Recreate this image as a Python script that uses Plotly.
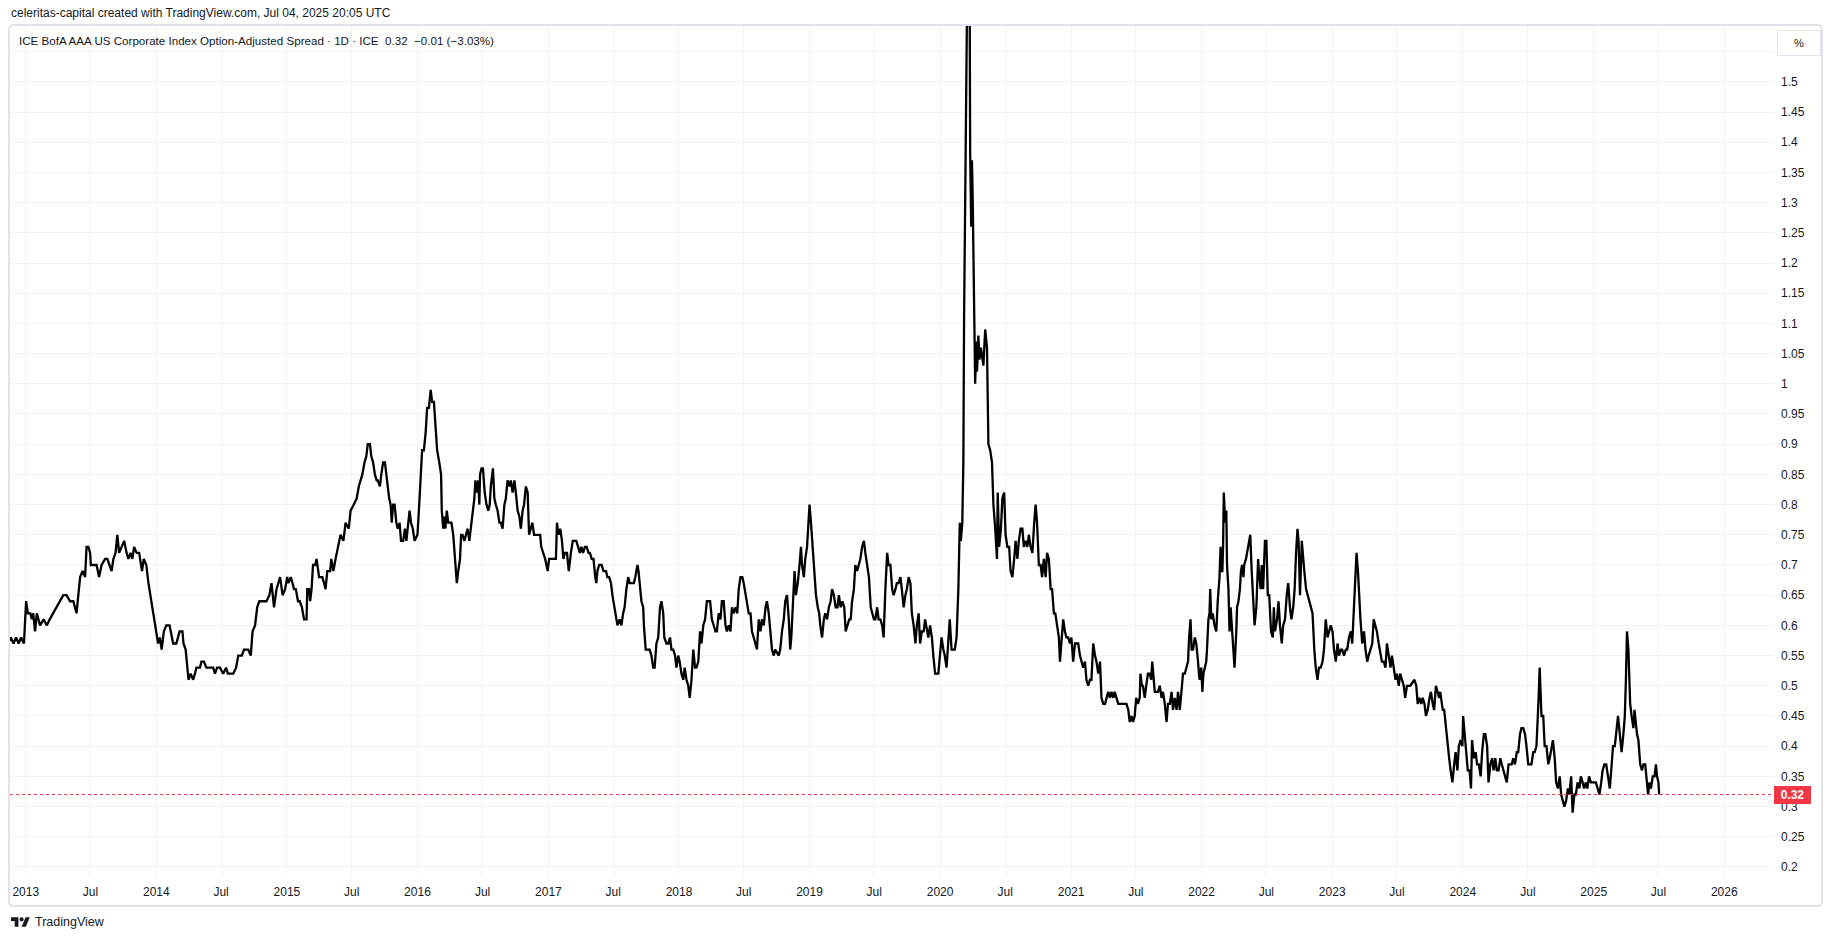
import plotly.graph_objects as go

# ---------------- data: ICE BofA AAA US Corporate OAS (%) ----------------
obs_2012 = [("2012-11-01",0.58),("2012-11-12",0.57),("2012-11-20",0.58),("2012-11-28",0.57),("2012-12-05",0.58),
            ("2012-12-12",0.57),("2012-12-19",0.58),("2012-12-27",0.57)]
obs_2013 = [("2013-01-02",0.64),("2013-01-07",0.62),("2013-01-14",0.62),("2013-01-18",0.61),("2013-01-22",0.62),("2013-01-27",0.59),
            ("2013-02-01",0.62),("2013-02-10",0.60),("2013-02-20",0.61),("2013-03-01",0.60),("2013-03-09",0.61),("2013-03-19",0.62),
            ("2013-03-28",0.63),("2013-04-07",0.64),("2013-04-16",0.65),("2013-04-25",0.65),("2013-05-05",0.64),("2013-05-14",0.64),
            ("2013-05-23",0.62),("2013-05-28",0.65),("2013-06-02",0.68),("2013-06-09",0.69),("2013-06-16",0.68),("2013-06-20",0.73),
            ("2013-06-25",0.73),("2013-06-30",0.72),("2013-07-02",0.70),("2013-07-09",0.70),("2013-07-18",0.70),("2013-07-25",0.68),
            ("2013-08-01",0.70),("2013-08-11",0.71),("2013-08-17",0.71),("2013-08-23",0.70),("2013-08-29",0.69),("2013-09-03",0.71),
            ("2013-09-09",0.72),("2013-09-14",0.75),("2013-09-19",0.72),("2013-09-26",0.73),("2013-10-03",0.74),("2013-10-10",0.72),
            ("2013-10-15",0.71),("2013-10-21",0.72),("2013-10-26",0.71),("2013-10-31",0.73),("2013-11-07",0.72),("2013-11-14",0.72),
            ("2013-11-22",0.69),("2013-11-27",0.71),("2013-12-04",0.70),("2013-12-10",0.67),("2013-12-15",0.65),("2013-12-21",0.63),
            ("2013-12-26",0.61),("2013-12-31",0.59)]
obs_2014 = [("2014-01-06",0.57),("2014-01-11",0.58),("2014-01-16",0.56),("2014-01-22",0.59),("2014-01-29",0.60),("2014-02-07",0.60),
            ("2014-02-17",0.57),("2014-02-26",0.57),("2014-03-07",0.59),("2014-03-15",0.59),("2014-03-18",0.57),("2014-03-24",0.56),
            ("2014-03-28",0.53),("2014-04-01",0.51),("2014-04-07",0.52),("2014-04-14",0.51),("2014-04-19",0.52),("2014-04-23",0.53),
            ("2014-05-03",0.53),("2014-05-07",0.54),("2014-05-14",0.54),("2014-05-21",0.53),("2014-06-01",0.53),("2014-06-09",0.53),
            ("2014-06-14",0.52),("2014-06-20",0.53),("2014-06-28",0.53),("2014-07-07",0.52),("2014-07-15",0.53),("2014-07-20",0.52),
            ("2014-07-26",0.52),("2014-08-04",0.52),("2014-08-12",0.53),("2014-08-18",0.55),("2014-08-28",0.55),("2014-09-03",0.56),
            ("2014-09-15",0.56),("2014-09-22",0.55),("2014-09-27",0.59),("2014-10-04",0.60),("2014-10-10",0.63),("2014-10-16",0.64),
            ("2014-10-27",0.64),("2014-11-05",0.64),("2014-11-13",0.65),("2014-11-19",0.67),("2014-11-26",0.63),("2014-12-03",0.66),
            ("2014-12-13",0.68),("2014-12-20",0.65),("2014-12-27",0.66)]
obs_2015 = [("2015-01-02",0.68),("2015-01-05",0.67),("2015-01-12",0.68),("2015-01-21",0.66),("2015-01-26",0.66),("2015-02-01",0.64),
            ("2015-02-06",0.64),("2015-02-12",0.63),("2015-02-18",0.61),("2015-02-25",0.61),("2015-02-27",0.66),("2015-03-04",0.66),
            ("2015-03-07",0.64),("2015-03-11",0.66),("2015-03-15",0.70),("2015-03-21",0.70),("2015-03-25",0.71),("2015-04-01",0.68),
            ("2015-04-10",0.68),("2015-04-15",0.67),("2015-04-19",0.66),("2015-04-24",0.69),("2015-05-02",0.69),("2015-05-05",0.71),
            ("2015-05-11",0.69),("2015-05-17",0.71),("2015-05-27",0.74),("2015-05-31",0.75),("2015-06-08",0.74),("2015-06-14",0.77),
            ("2015-06-23",0.76),("2015-06-28",0.79),("2015-07-07",0.80),("2015-07-15",0.81),("2015-07-21",0.83),("2015-07-26",0.84),
            ("2015-07-31",0.85),("2015-08-06",0.87),("2015-08-11",0.88),("2015-08-15",0.90),("2015-08-21",0.90),("2015-08-25",0.88),
            ("2015-08-30",0.87),("2015-09-04",0.85),("2015-09-09",0.84),("2015-09-12",0.84),("2015-09-18",0.83),("2015-09-22",0.85),
            ("2015-09-27",0.87),("2015-10-02",0.87),("2015-10-07",0.84),("2015-10-10",0.83),("2015-10-14",0.81),("2015-10-18",0.80),
            ("2015-10-21",0.77),("2015-10-25",0.80),("2015-10-29",0.80),("2015-11-03",0.77),("2015-11-07",0.76),("2015-11-12",0.77),
            ("2015-11-16",0.74),("2015-11-22",0.74),("2015-11-27",0.76),("2015-12-01",0.74),("2015-12-05",0.76),("2015-12-10",0.79),
            ("2015-12-14",0.77),("2015-12-19",0.76),("2015-12-24",0.74)]
obs_2016 = [("2016-01-01",0.75),("2016-01-05",0.79),("2016-01-10",0.84),("2016-01-14",0.89),("2016-01-19",0.89),("2016-01-24",0.92),
            ("2016-01-28",0.96),("2016-02-02",0.96),("2016-02-07",0.99),("2016-02-11",0.97),("2016-02-16",0.97),("2016-02-21",0.93),
            ("2016-02-25",0.89),("2016-03-02",0.87),("2016-03-07",0.85),("2016-03-09",0.79),("2016-03-13",0.76),("2016-03-16",0.78),
            ("2016-03-19",0.76),("2016-03-23",0.79),("2016-03-27",0.77),("2016-04-01",0.77),("2016-04-05",0.77),("2016-04-10",0.75),
            ("2016-04-14",0.72),("2016-04-17",0.69),("2016-04-20",0.67),("2016-04-24",0.69),("2016-04-29",0.71),("2016-05-02",0.75),
            ("2016-05-06",0.75),("2016-05-11",0.74),("2016-05-16",0.75),("2016-05-20",0.76),("2016-05-25",0.74),("2016-05-29",0.76),
            ("2016-06-02",0.77),("2016-06-08",0.81),("2016-06-11",0.84),("2016-06-15",0.82),("2016-06-19",0.84),("2016-06-22",0.80),
            ("2016-06-24",0.85),("2016-06-28",0.86),("2016-07-02",0.86),("2016-07-07",0.82),("2016-07-12",0.80),("2016-07-17",0.79),
            ("2016-07-21",0.80),("2016-07-24",0.83),("2016-07-30",0.86),("2016-08-03",0.81),("2016-08-07",0.80),("2016-08-12",0.79),
            ("2016-08-17",0.77),("2016-08-21",0.77),("2016-08-26",0.76),("2016-08-31",0.80),("2016-09-04",0.81),("2016-09-09",0.84),
            ("2016-09-15",0.83),("2016-09-18",0.84),("2016-09-23",0.82),("2016-09-28",0.84),("2016-10-02",0.82),("2016-10-07",0.79),
            ("2016-10-12",0.78),("2016-10-16",0.76),("2016-10-21",0.79),("2016-10-25",0.80),("2016-10-30",0.83),("2016-11-04",0.82),
            ("2016-11-08",0.75),("2016-11-13",0.76),("2016-11-17",0.77),("2016-11-22",0.75),("2016-12-01",0.75),("2016-12-09",0.75),
            ("2016-12-12",0.73),("2016-12-18",0.72),("2016-12-23",0.71),("2016-12-30",0.69)]
obs_2017 = [("2017-01-03",0.71),("2017-01-10",0.71),("2017-01-15",0.71),("2017-01-22",0.71),("2017-01-25",0.77),("2017-01-29",0.75),
            ("2017-02-03",0.76),("2017-02-08",0.74),("2017-02-12",0.71),("2017-02-16",0.72),("2017-02-22",0.72),("2017-02-27",0.69),
            ("2017-03-05",0.72),("2017-03-10",0.74),("2017-03-15",0.74),("2017-03-20",0.74),("2017-03-25",0.73),("2017-03-30",0.72),
            ("2017-04-03",0.73),("2017-04-08",0.72),("2017-04-13",0.73),("2017-04-18",0.73),("2017-04-23",0.72),("2017-04-27",0.72),
            ("2017-05-02",0.71),("2017-05-07",0.71),("2017-05-12",0.68),("2017-05-15",0.67),("2017-05-18",0.69),("2017-05-23",0.70),
            ("2017-05-30",0.70),("2017-06-04",0.69),("2017-06-11",0.69),("2017-06-15",0.68),("2017-06-20",0.68),("2017-06-25",0.67),
            ("2017-06-29",0.65),("2017-07-02",0.64),("2017-07-07",0.62),("2017-07-13",0.60),("2017-07-19",0.61),("2017-07-24",0.60),
            ("2017-07-29",0.62),("2017-08-02",0.63),("2017-08-07",0.66),("2017-08-12",0.68),("2017-08-16",0.67),("2017-08-21",0.67),
            ("2017-08-28",0.67),("2017-09-01",0.68),("2017-09-07",0.70),("2017-09-10",0.69),("2017-09-14",0.67),("2017-09-18",0.64),
            ("2017-09-23",0.63),("2017-09-25",0.60),("2017-09-30",0.56),("2017-10-05",0.56),("2017-10-11",0.56),("2017-10-16",0.55),
            ("2017-10-21",0.53),("2017-10-25",0.53),("2017-10-30",0.57),("2017-11-04",0.58),("2017-11-09",0.63),("2017-11-13",0.64),
            ("2017-11-18",0.62),("2017-11-21",0.58),("2017-11-27",0.57),("2017-12-02",0.57),("2017-12-07",0.58),("2017-12-11",0.56),
            ("2017-12-16",0.56),("2017-12-21",0.55),("2017-12-25",0.53),("2017-12-30",0.55)]
obs_2018 = [("2018-01-03",0.54),("2018-01-08",0.52),("2018-01-13",0.51),("2018-01-17",0.53),("2018-01-22",0.51),("2018-01-27",0.50),
            ("2018-01-31",0.48),("2018-02-05",0.51),("2018-02-10",0.56),("2018-02-15",0.53),("2018-02-19",0.53),("2018-02-24",0.54),
            ("2018-03-01",0.59),("2018-03-05",0.57),("2018-03-10",0.60),("2018-03-15",0.61),("2018-03-20",0.64),("2018-03-25",0.64),
            ("2018-03-29",0.64),("2018-04-03",0.61),("2018-04-08",0.60),("2018-04-13",0.59),("2018-04-17",0.59),("2018-04-22",0.62),
            ("2018-04-27",0.61),("2018-05-01",0.64),("2018-05-06",0.64),("2018-05-11",0.60),("2018-05-15",0.59),("2018-05-20",0.60),
            ("2018-05-25",0.59),("2018-05-29",0.63),("2018-06-03",0.62),("2018-06-08",0.63),("2018-06-13",0.62),("2018-06-17",0.66),
            ("2018-06-22",0.68),("2018-06-27",0.68),("2018-07-01",0.67),("2018-07-06",0.65),("2018-07-10",0.64),("2018-07-15",0.62),
            ("2018-07-20",0.62),("2018-07-24",0.59),("2018-07-29",0.58),("2018-08-03",0.57),("2018-08-07",0.56),("2018-08-12",0.61),
            ("2018-08-17",0.59),("2018-08-21",0.61),("2018-08-26",0.60),("2018-08-31",0.63),("2018-09-04",0.64),("2018-09-09",0.62),
            ("2018-09-14",0.58),("2018-09-18",0.56),("2018-09-23",0.55),("2018-09-27",0.56),("2018-10-07",0.55),("2018-10-11",0.56),
            ("2018-10-16",0.59),("2018-10-21",0.61),("2018-10-25",0.64),("2018-10-30",0.65),("2018-11-04",0.61),("2018-11-08",0.56),
            ("2018-11-11",0.58),("2018-11-15",0.64),("2018-11-20",0.69),("2018-11-24",0.65),("2018-11-29",0.67),("2018-12-04",0.70),
            ("2018-12-08",0.73),("2018-12-11",0.70),("2018-12-16",0.68),("2018-12-20",0.71),("2018-12-25",0.73),("2018-12-28",0.76)]
obs_2019 = [("2019-01-01",0.80),("2019-01-05",0.77),("2019-01-08",0.74),("2019-01-10",0.73),("2019-01-15",0.69),("2019-01-19",0.65),
            ("2019-01-24",0.63),("2019-01-28",0.62),("2019-01-31",0.60),("2019-02-05",0.58),("2019-02-10",0.61),("2019-02-14",0.62),
            ("2019-02-19",0.61),("2019-02-24",0.63),("2019-03-01",0.64),("2019-03-05",0.66),("2019-03-10",0.65),("2019-03-15",0.63),
            ("2019-03-20",0.63),("2019-03-24",0.65),("2019-03-29",0.63),("2019-04-03",0.64),("2019-04-08",0.63),("2019-04-12",0.59),
            ("2019-04-17",0.60),("2019-04-22",0.61),("2019-04-26",0.61),("2019-04-30",0.64),("2019-05-05",0.66),("2019-05-09",0.70),
            ("2019-05-14",0.69),("2019-05-19",0.70),("2019-05-23",0.71),("2019-05-28",0.73),("2019-06-02",0.74),("2019-06-06",0.72),
            ("2019-06-11",0.70),("2019-06-16",0.68),("2019-06-21",0.63),("2019-06-25",0.62),("2019-06-30",0.61),("2019-07-04",0.61),
            ("2019-07-09",0.63),("2019-07-13",0.61),("2019-07-18",0.61),("2019-07-23",0.60),("2019-07-27",0.58),("2019-08-01",0.66),
            ("2019-08-06",0.72),("2019-08-10",0.70),("2019-08-15",0.70),("2019-08-20",0.66),("2019-08-24",0.65),("2019-08-29",0.66),
            ("2019-09-02",0.67),("2019-09-07",0.67),("2019-09-12",0.68),("2019-09-16",0.66),("2019-09-21",0.63),("2019-09-26",0.65),
            ("2019-09-30",0.66),("2019-10-05",0.68),("2019-10-10",0.67),("2019-10-14",0.62),("2019-10-19",0.60),("2019-10-24",0.57),
            ("2019-10-28",0.60),("2019-11-02",0.62),("2019-11-06",0.57),("2019-11-11",0.59),("2019-11-16",0.59),("2019-11-20",0.61),
            ("2019-11-25",0.59),("2019-11-29",0.58),("2019-12-04",0.60),("2019-12-09",0.58),("2019-12-13",0.55),("2019-12-18",0.52),
            ("2019-12-27",0.52)]
obs_2020 = [("2020-01-01",0.55),("2020-01-05",0.58),("2020-01-10",0.56),("2020-01-14",0.55),("2020-01-19",0.53),("2020-01-24",0.57),
            ("2020-01-28",0.61),("2020-02-02",0.56),("2020-02-11",0.56),("2020-02-16",0.58),("2020-02-21",0.66),("2020-02-25",0.77),
            ("2020-02-28",0.74),("2020-03-03",0.77),("2020-03-06",0.87),("2020-03-08",1.11),("2020-03-11",1.26),("2020-03-13",1.30),
            ("2020-03-16",1.46),("2020-03-18",1.72),("2020-03-20",1.86),("2020-03-23",1.74),("2020-03-25",1.38),("2020-03-28",1.26),
            ("2020-03-30",1.37),("2020-04-01",1.31),("2020-04-04",1.20),("2020-04-08",1.00),("2020-04-11",1.07),("2020-04-13",1.02),
            ("2020-04-17",1.08),("2020-04-20",1.04),("2020-04-24",1.06),("2020-04-27",1.05),("2020-05-01",1.03),("2020-05-06",1.09),
            ("2020-05-11",1.06),("2020-05-15",0.90),("2020-05-20",0.89),("2020-05-25",0.87),("2020-05-29",0.80),("2020-06-03",0.76),
            ("2020-06-08",0.71),("2020-06-10",0.82),("2020-06-14",0.73),("2020-06-19",0.76),("2020-06-23",0.81),("2020-06-28",0.82),
            ("2020-07-02",0.75),("2020-07-07",0.73),("2020-07-12",0.73),("2020-07-16",0.69),("2020-07-21",0.68),("2020-07-26",0.71),
            ("2020-07-30",0.74),("2020-08-04",0.71),("2020-08-08",0.74),("2020-08-13",0.76),("2020-08-18",0.76),("2020-08-22",0.73),
            ("2020-08-27",0.74),("2020-09-01",0.73),("2020-09-05",0.75),("2020-09-10",0.73),("2020-09-15",0.72),("2020-09-20",0.77),
            ("2020-09-24",0.80),("2020-09-28",0.77),("2020-10-03",0.70),("2020-10-08",0.70),("2020-10-12",0.68),("2020-10-17",0.71),
            ("2020-10-22",0.68),("2020-10-26",0.72),("2020-10-31",0.71),("2020-11-05",0.66),("2020-11-09",0.66),("2020-11-14",0.62),
            ("2020-11-18",0.62),("2020-11-23",0.60),("2020-11-28",0.58),("2020-12-01",0.54),("2020-12-05",0.58),("2020-12-10",0.61),
            ("2020-12-15",0.59),("2020-12-19",0.58),("2020-12-24",0.58),("2020-12-29",0.57)]
obs_2021 = [("2021-01-02",0.58),("2021-01-07",0.54),("2021-01-12",0.57),("2021-01-16",0.57),("2021-01-21",0.57),("2021-01-26",0.55),
            ("2021-01-30",0.54),("2021-02-04",0.53),("2021-02-09",0.54),("2021-02-13",0.51),("2021-02-18",0.50),("2021-02-23",0.51),
            ("2021-02-27",0.51),("2021-03-04",0.57),("2021-03-09",0.55),("2021-03-13",0.54),("2021-03-18",0.52),("2021-03-23",0.54),
            ("2021-03-27",0.48),("2021-04-01",0.47),("2021-04-06",0.47),("2021-04-10",0.48),("2021-04-15",0.49),("2021-04-20",0.48),
            ("2021-04-24",0.49),("2021-04-29",0.48),("2021-05-03",0.49),("2021-05-08",0.48),("2021-05-13",0.47),("2021-05-17",0.47),
            ("2021-05-22",0.47),("2021-05-27",0.47),("2021-05-31",0.47),("2021-06-05",0.47),("2021-06-10",0.46),("2021-06-14",0.44),
            ("2021-06-19",0.45),("2021-06-23",0.44),("2021-06-28",0.45),("2021-07-02",0.48),("2021-07-07",0.47),("2021-07-12",0.48),
            ("2021-07-14",0.52),("2021-07-18",0.50),("2021-07-21",0.50),("2021-07-26",0.48),("2021-07-30",0.50),("2021-08-04",0.52),
            ("2021-08-09",0.52),("2021-08-13",0.51),("2021-08-16",0.54),("2021-08-20",0.51),("2021-08-23",0.49),("2021-08-28",0.49),
            ("2021-09-01",0.49),("2021-09-06",0.50),("2021-09-11",0.48),("2021-09-15",0.49),("2021-09-20",0.47),("2021-09-25",0.44),
            ("2021-09-29",0.47),("2021-10-04",0.47),("2021-10-09",0.49),("2021-10-13",0.46),("2021-10-18",0.48),("2021-10-23",0.46),
            ("2021-10-27",0.49),("2021-11-01",0.46),("2021-11-05",0.49),("2021-11-10",0.52),("2021-11-15",0.52),("2021-11-19",0.53),
            ("2021-11-24",0.54),("2021-11-27",0.58),("2021-12-01",0.61),("2021-12-04",0.56),("2021-12-08",0.56),("2021-12-13",0.58),
            ("2021-12-17",0.57),("2021-12-22",0.54),("2021-12-26",0.51),("2021-12-31",0.53)]
obs_2022 = [("2022-01-03",0.49),("2022-01-06",0.52),("2022-01-09",0.53),("2022-01-14",0.54),("2022-01-16",0.56),("2022-01-20",0.61),
            ("2022-01-23",0.62),("2022-01-25",0.66),("2022-01-28",0.61),("2022-02-01",0.62),("2022-02-06",0.60),("2022-02-11",0.59),
            ("2022-02-15",0.64),("2022-02-20",0.68),("2022-02-23",0.73),("2022-02-25",0.69),("2022-02-28",0.69),("2022-03-02",0.73),
            ("2022-03-04",0.82),("2022-03-08",0.77),("2022-03-11",0.79),("2022-03-13",0.70),("2022-03-17",0.66),("2022-03-20",0.59),
            ("2022-03-23",0.63),("2022-03-27",0.59),("2022-03-31",0.56),("2022-04-03",0.53),("2022-04-08",0.59),("2022-04-10",0.63),
            ("2022-04-14",0.64),("2022-04-18",0.66),("2022-04-21",0.69),("2022-04-24",0.70),("2022-04-28",0.68),("2022-04-30",0.70),
            ("2022-05-05",0.71),("2022-05-10",0.73),("2022-05-15",0.75),("2022-05-17",0.75),("2022-05-21",0.69),("2022-05-25",0.64),
            ("2022-05-29",0.60),("2022-06-03",0.63),("2022-06-08",0.71),("2022-06-10",0.69),("2022-06-15",0.66),("2022-06-18",0.70),
            ("2022-06-22",0.66),("2022-06-27",0.74),("2022-07-01",0.74),("2022-07-05",0.65),("2022-07-09",0.65),("2022-07-14",0.59),
            ("2022-07-19",0.58),("2022-07-22",0.63),("2022-07-25",0.59),("2022-07-31",0.61),("2022-08-04",0.64),("2022-08-08",0.60),
            ("2022-08-13",0.57),("2022-08-17",0.60),("2022-08-22",0.61),("2022-08-27",0.65),("2022-08-31",0.67),("2022-09-05",0.63),
            ("2022-09-09",0.61),("2022-09-14",0.63),("2022-09-18",0.66),("2022-09-22",0.72),("2022-09-26",0.76),("2022-09-29",0.74),
            ("2022-10-03",0.65),("2022-10-08",0.74),("2022-10-11",0.71),("2022-10-15",0.69),("2022-10-20",0.66),("2022-10-24",0.65),
            ("2022-10-29",0.64),("2022-11-02",0.63),("2022-11-07",0.62),("2022-11-12",0.56),("2022-11-16",0.53),("2022-11-21",0.51),
            ("2022-11-25",0.53),("2022-11-30",0.53),("2022-12-05",0.54),("2022-12-09",0.56),("2022-12-14",0.61),("2022-12-19",0.58),
            ("2022-12-23",0.59),("2022-12-28",0.60)]
obs_2023 = [("2023-01-02",0.59),("2023-01-06",0.56),("2023-01-11",0.54),("2023-01-16",0.57),("2023-01-20",0.55),("2023-01-25",0.56),
            ("2023-01-29",0.56),("2023-02-03",0.55),("2023-02-08",0.56),("2023-02-12",0.56),("2023-02-17",0.58),("2023-02-22",0.59),
            ("2023-02-26",0.57),("2023-03-03",0.63),("2023-03-08",0.69),("2023-03-10",0.72),("2023-03-14",0.69),("2023-03-18",0.63),
            ("2023-03-21",0.61),("2023-03-26",0.57),("2023-03-31",0.59),("2023-04-04",0.56),("2023-04-09",0.54),("2023-04-13",0.55),
            ("2023-04-18",0.56),("2023-04-23",0.57),("2023-04-27",0.61),("2023-05-02",0.60),("2023-05-06",0.59),("2023-05-11",0.57),
            ("2023-05-16",0.55),("2023-05-20",0.54),("2023-05-25",0.54),("2023-05-30",0.53),("2023-06-03",0.57),("2023-06-08",0.55),
            ("2023-06-13",0.53),("2023-06-17",0.55),("2023-06-22",0.53),("2023-06-27",0.51),("2023-07-01",0.52),("2023-07-06",0.50),
            ("2023-07-10",0.52),("2023-07-15",0.51),("2023-07-20",0.50),("2023-07-24",0.48),("2023-07-29",0.50),("2023-08-07",0.50),
            ("2023-08-19",0.51),("2023-08-24",0.50),("2023-08-28",0.47),("2023-09-02",0.48),("2023-09-07",0.47),("2023-09-11",0.48),
            ("2023-09-16",0.47),("2023-09-20",0.45),("2023-09-25",0.46),("2023-09-30",0.48),("2023-10-04",0.49),("2023-10-09",0.47),
            ("2023-10-13",0.46),("2023-10-18",0.50),("2023-10-23",0.49),("2023-10-27",0.48),("2023-10-30",0.49),("2023-11-03",0.47),
            ("2023-11-06",0.46),("2023-11-10",0.46),("2023-11-15",0.43),("2023-11-19",0.40),("2023-11-24",0.38),("2023-11-28",0.36),
            ("2023-12-03",0.34),("2023-12-08",0.37),("2023-12-12",0.39),("2023-12-17",0.36),("2023-12-21",0.40),("2023-12-26",0.41),
            ("2023-12-31",0.40)]
obs_2024 = [("2024-01-02",0.45),("2024-01-06",0.42),("2024-01-11",0.39),("2024-01-15",0.36),("2024-01-20",0.36),("2024-01-24",0.33),
            ("2024-01-27",0.41),("2024-02-01",0.38),("2024-02-06",0.39),("2024-02-10",0.37),("2024-02-15",0.37),("2024-02-20",0.35),
            ("2024-02-24",0.39),("2024-02-29",0.42),("2024-03-04",0.42),("2024-03-09",0.40),("2024-03-13",0.34),("2024-03-18",0.37),
            ("2024-03-23",0.38),("2024-03-27",0.36),("2024-04-01",0.38),("2024-04-05",0.36),("2024-04-10",0.36),("2024-04-15",0.38),
            ("2024-04-19",0.37),("2024-04-24",0.36),("2024-04-28",0.35),("2024-05-03",0.34),("2024-05-08",0.37),("2024-05-12",0.37),
            ("2024-05-17",0.37),("2024-05-21",0.38),("2024-05-26",0.37),("2024-05-31",0.39),("2024-06-04",0.39),("2024-06-09",0.42),
            ("2024-06-13",0.43),("2024-06-18",0.43),("2024-06-23",0.42),("2024-06-27",0.40),("2024-07-02",0.37),("2024-07-07",0.37),
            ("2024-07-11",0.37),("2024-07-16",0.39),("2024-07-20",0.39),("2024-07-25",0.40),("2024-07-28",0.43),("2024-07-31",0.48),
            ("2024-08-03",0.53),("2024-08-06",0.49),("2024-08-08",0.45),("2024-08-13",0.45),("2024-08-17",0.40),("2024-08-22",0.40),
            ("2024-08-27",0.37),("2024-08-31",0.38),("2024-09-05",0.40),("2024-09-09",0.41),("2024-09-14",0.38),("2024-09-18",0.34),
            ("2024-09-23",0.33),("2024-09-28",0.35),("2024-10-02",0.32),("2024-10-07",0.31),("2024-10-11",0.30),("2024-10-16",0.31),
            ("2024-10-21",0.33),("2024-10-25",0.32),("2024-10-30",0.35),("2024-11-03",0.29),("2024-11-08",0.32),("2024-11-12",0.32),
            ("2024-11-17",0.34),("2024-11-22",0.33),("2024-11-26",0.35),("2024-12-01",0.34),("2024-12-05",0.33),("2024-12-10",0.34),
            ("2024-12-14",0.33),("2024-12-19",0.35),("2024-12-24",0.34),("2024-12-28",0.34)]
obs_2025 = [("2025-01-02",0.34),("2025-01-07",0.34),("2025-01-12",0.33),("2025-01-17",0.32),("2025-01-22",0.34),("2025-01-26",0.36),
            ("2025-01-31",0.37),("2025-02-05",0.37),("2025-02-10",0.35),("2025-02-15",0.33),("2025-02-19",0.36),("2025-02-24",0.40),
            ("2025-03-01",0.40),("2025-03-05",0.42),("2025-03-10",0.45),("2025-03-15",0.42),("2025-03-20",0.39),("2025-03-25",0.42),
            ("2025-03-29",0.45),("2025-04-01",0.51),("2025-04-04",0.59),("2025-04-08",0.56),("2025-04-13",0.47),("2025-04-17",0.45),
            ("2025-04-22",0.43),("2025-04-25",0.46),("2025-04-29",0.43),("2025-05-02",0.42),("2025-05-06",0.41),("2025-05-11",0.37),
            ("2025-05-16",0.36),("2025-05-20",0.37),("2025-05-25",0.37),("2025-05-30",0.33),("2025-06-02",0.32),("2025-06-06",0.34),
            ("2025-06-10",0.33),("2025-06-15",0.35),("2025-06-20",0.35),("2025-06-24",0.37),("2025-06-27",0.35),("2025-07-01",0.34),
            ("2025-07-02",0.33),("2025-07-03",0.32)]

series = (obs_2012 + obs_2013 + obs_2014 + obs_2015 + obs_2016 + obs_2017 + obs_2018 +
          obs_2019 + obs_2020 + obs_2021 + obs_2022 + obs_2023 + obs_2024 + obs_2025)
dates = [d for d, _ in series]
oas = [v for _, v in series]

time_tick_dates = ["2013-01-01","2013-07-01","2014-01-01","2014-07-01","2015-01-01","2015-07-01","2016-01-01","2016-07-01",
                   "2017-01-01","2017-07-01","2018-01-01","2018-07-01","2019-01-01","2019-07-01","2020-01-01","2020-07-01",
                   "2021-01-01","2021-07-01","2022-01-01","2022-07-01","2023-01-01","2023-07-01","2024-01-01","2024-07-01",
                   "2025-01-01","2025-07-01","2026-01-01"]
time_tick_labels = ["2013","Jul","2014","Jul","2015","Jul","2016","Jul","2017","Jul","2018","Jul","2019","Jul",
                    "2020","Jul","2021","Jul","2022","Jul","2023","Jul","2024","Jul","2025","Jul","2026"]
price_tick_values = [0.2,0.25,0.3,0.35,0.4,0.45,0.5,0.55,0.6,0.65,0.7,0.75,0.8,0.85,0.9,0.95,1.0,1.05,1.1,
                     1.15,1.2,1.25,1.3,1.35,1.4,1.45,1.5,1.55]
price_tick_labels = ["0.2","0.25","0.3","0.35","0.4","0.45","0.5","0.55","0.6","0.65","0.7","0.75","0.8","0.85",
                     "0.9","0.95","1","1.05","1.1","1.15","1.2","1.25","1.3","1.35","1.4","1.45","1.5",""]

title_text = "ICE BofA AAA US Corporate Index Option-Adjusted Spread \u00b7 1D \u00b7 ICE"
credit_text = "celeritas-capital created with TradingView.com, Jul 04, 2025 20:05 UTC"

# ---------------- layout (page body margin is removed so the figure fills the window) ----------------
W, H = 1835, 941
PANE_X0, PANE_X1, PANE_Y0, PANE_Y1 = 10, 1774, 26, 877
L, T = PANE_X0, PANE_Y0
R, B = W - PANE_X1, H - PANE_Y1
PW, PH = PANE_X1 - PANE_X0, PANE_Y1 - PANE_Y0
FONT = "Liberation Sans, Arial, sans-serif"
TXT = "#131722"
RED = "#f23645"
GRID = "#f0f3fa"


def px(x):
    return (x - PANE_X0) / PW


def py(y):
    return (PANE_Y1 - y) / PH


last = oas[-1]
prev = oas[-2]
chg = last - prev
pct = chg / prev * 100


def signed(v, fmt):
    s = format(abs(v), fmt)
    return ("\u2212" if v < 0 else "+") + s


legend_text = (f"{title_text}\u00a0\u00a0{last:.2f}\u00a0\u00a0{signed(chg, '.2f')} "
               f"({signed(pct, '.2f')}%)")

fig = go.Figure()
fig.add_trace(go.Scatter(x=dates, y=oas, mode="lines",
                         line=dict(color="#000000", width=2.3), hoverinfo="skip", showlegend=False))

shapes = []
shapes.append(dict(type="line", xref="paper", yref="y", x0=0, x1=1, y0=last, y1=last,
                   line=dict(color=RED, width=1, dash="dot"), layer="above"))
bx0, bx1, by0, by1, r = 9, 1822, 25, 906, 5
border = (f"M {px(bx0 + r)},{py(by0)} L {px(bx1 - r)},{py(by0)} Q {px(bx1)},{py(by0)} {px(bx1)},{py(by0 + r)} "
          f"L {px(bx1)},{py(by1 - r)} Q {px(bx1)},{py(by1)} {px(bx1 - r)},{py(by1)} "
          f"L {px(bx0 + r)},{py(by1)} Q {px(bx0)},{py(by1)} {px(bx0)},{py(by1 - r)} "
          f"L {px(bx0)},{py(by0 + r)} Q {px(bx0)},{py(by0)} {px(bx0 + r)},{py(by0)} Z")
shapes.append(dict(type="path", xref="paper", yref="paper", path=border,
                   line=dict(color="#e0e3eb", width=2), layer="above"))
s, ox, oy = 0.53, 11, 915.1
def lp(vx, vy):
    return f"{px(ox + vx * s)},{py(oy + vy * s)}"
t_path = f"M {lp(14,22)} L {lp(7,22)} L {lp(7,11)} L {lp(0,11)} L {lp(0,4)} L {lp(14,4)} Z"
v_path = f"M {lp(28,22)} L {lp(20,22)} L {lp(27.5,4)} L {lp(35.5,4)} Z"
for p in (t_path, v_path):
    shapes.append(dict(type="path", xref="paper", yref="paper", path=p,
                       fillcolor=TXT, line=dict(width=0)))
shapes.append(dict(type="circle", xref="paper", yref="paper",
                   x0=px(ox + 16 * s), x1=px(ox + 24 * s), y0=py(oy + 4 * s), y1=py(oy + 12 * s),
                   fillcolor=TXT, line=dict(width=0)))

annotations = [
    dict(xref="paper", yref="paper", x=px(9), y=py(13), xanchor="left", yanchor="middle",
         text=credit_text, showarrow=False, font=dict(family=FONT, size=12, color=TXT)),
    dict(xref="paper", yref="paper", x=px(17), y=py(41), xanchor="left", yanchor="middle",
         text=legend_text, showarrow=False, font=dict(family=FONT, size=11.6, color=TXT)),
    dict(xref="paper", yref="y", x=1, y=last, xanchor="left", yanchor="middle",
         text=f"<b>{last:.2f}</b>", showarrow=False, bgcolor=RED, width=37, height=18,
         borderpad=0, borderwidth=0, font=dict(family=FONT, size=12, color="#ffffff")),
    dict(xref="paper", yref="paper", x=px(1777), y=py(43), xanchor="left", yanchor="middle",
         text="%", showarrow=False, width=42, height=24, bordercolor="#e0e3eb", borderwidth=1,
         borderpad=0, font=dict(family=FONT, size=11, color=TXT)),
    dict(xref="paper", yref="paper", x=px(33), y=py(922), xanchor="left", yanchor="middle",
         text="TradingView", showarrow=False, font=dict(family=FONT, size=12.5, color=TXT)),
]

fig.update_layout(
    width=W, height=H,
    margin=dict(l=L, r=R, t=T, b=B, autoexpand=False),
    paper_bgcolor="#ffffff", plot_bgcolor="#ffffff",
    font=dict(family=FONT, size=12, color=TXT),
    showlegend=False,
    shapes=shapes,
    annotations=annotations,
    xaxis=dict(type="date", range=["2012-11-18", "2026-05-20"],
               tickmode="array", tickvals=time_tick_dates, ticktext=time_tick_labels,
               showgrid=True, gridcolor=GRID, gridwidth=1, zeroline=False, showline=False,
               ticks="", ticklabelstandoff=6, automargin=False,
               tickfont=dict(family=FONT, size=12, color=TXT), fixedrange=True),
    yaxis=dict(side="right", range=[0.1834, 1.5924],
               tickmode="array", tickvals=price_tick_values, ticktext=price_tick_labels,
               showgrid=True, gridcolor=GRID, gridwidth=1, zeroline=False, showline=False,
               ticks="", ticklabelstandoff=6, automargin=False,
               tickfont=dict(family=FONT, size=12, color=TXT), fixedrange=True),
)

fig.write_html("out.html", config={"displayModeBar": False},
               post_script="document.body.style.margin='0';document.body.style.overflow='hidden';")
